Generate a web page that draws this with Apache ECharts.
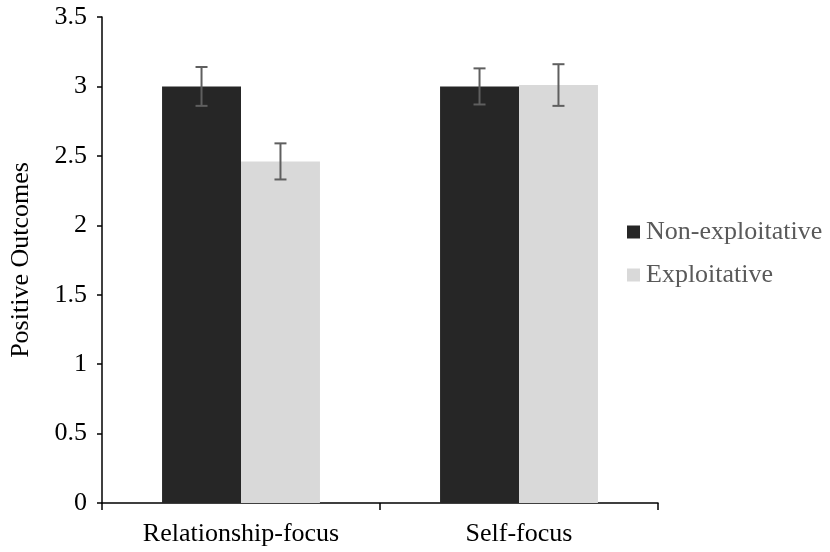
<!DOCTYPE html>
<html>
<head>
<meta charset="utf-8">
<script src="https://cdn.jsdelivr.net/npm/echarts@6/dist/echarts.min.js"></script>
<style>
  html, body { margin: 0; padding: 0; background: #fff; }
  #chart { width: 830px; height: 552px; }
</style>
</head>
<body>
<div id="chart"></div>
<script>
// Conditions on the x axis
const categories = ['Relationship-focus', 'Self-focus'];
// Group names (legend)
const seriesNames = ['Non-exploitative', 'Exploitative'];
// Mean positive outcomes per condition
const nonExploitative = [3.00, 3.00];
const exploitative = [2.46, 3.01];
// Standard errors (half-length of the error bars)
const nonExploitativeErr = [0.14, 0.13];
const exploitativeErr = [0.13, 0.15];
// Y axis ticks
const yMin = 0, yMax = 3.5, yStep = 0.5;

const FONT = '"Liberation Serif", "Times New Roman", serif';
const FONT_SIZE = 26;
const BAR_FRAC = 0.284;   // bar width as a fraction of the category band

function errorData(values, errs, side) {
  return values.map((v, i) => [i, v, errs[i], side]);
}

function renderError(params, api) {
  const idx = api.value(0);
  const mean = api.value(1);
  const err = api.value(2);
  const side = api.value(3);
  const band = api.size([1, 0])[0];
  const center = api.coord([idx, mean]);
  const x = center[0] + side * band * BAR_FRAC / 2;
  const top = api.coord([idx, mean + err])[1];
  const bot = api.coord([idx, mean - err])[1];
  const cap = 6;
  const style = { stroke: '#5f5f5f', lineWidth: 2 };
  return {
    type: 'group',
    children: [
      { type: 'line', shape: { x1: x, y1: top, x2: x, y2: bot }, style },
      { type: 'line', shape: { x1: x - cap, y1: top, x2: x + cap, y2: top }, style },
      { type: 'line', shape: { x1: x - cap, y1: bot, x2: x + cap, y2: bot }, style }
    ]
  };
}

const chart = echarts.init(document.getElementById('chart'), null, { renderer: 'canvas' });
chart.setOption({
  animation: false,
  backgroundColor: '#ffffff',
  grid: { left: 101, right: 172, top: 17, bottom: 49, containLabel: false },
  legend: {
    data: seriesNames,
    orient: 'vertical',
    left: 627,
    top: 219,
    padding: 0,
    icon: 'rect',
    itemWidth: 13,
    itemHeight: 13,
    itemGap: 17,
    textStyle: { fontFamily: FONT, fontSize: FONT_SIZE, color: '#595959', padding: [0, 0, 0, 1] }
  },
  xAxis: {
    type: 'category',
    data: categories,
    axisLine: { lineStyle: { color: '#000', width: 1.5 } },
    axisTick: { show: true, length: 7, lineStyle: { color: '#000', width: 1.5 } },
    axisLabel: { fontFamily: FONT, fontSize: FONT_SIZE, color: '#000', margin: 18 }
  },
  yAxis: {
    type: 'value',
    min: yMin, max: yMax, interval: yStep,
    name: 'Positive Outcomes',
    nameLocation: 'middle',
    nameGap: 68,
    nameTextStyle: { fontFamily: FONT, fontSize: FONT_SIZE, color: '#000' },
    splitLine: { show: false },
    axisLine: { show: true, lineStyle: { color: '#000', width: 1.5 } },
    axisTick: { show: true, length: 5, lineStyle: { color: '#000', width: 1.5 } },
    axisLabel: { fontFamily: FONT, fontSize: FONT_SIZE, color: '#000', margin: 15 }
  },
  series: [
    {
      name: seriesNames[0], type: 'bar', data: nonExploitative,
      barWidth: (BAR_FRAC * 100) + '%', barGap: '0%',
      itemStyle: { color: '#262626' }
    },
    {
      name: seriesNames[1], type: 'bar', data: exploitative,
      barWidth: (BAR_FRAC * 100) + '%', barGap: '0%',
      itemStyle: { color: '#d9d9d9' }
    },
    {
      type: 'custom', name: 'errNon', renderItem: renderError,
      data: errorData(nonExploitative, nonExploitativeErr, -1), z: 5
    },
    {
      type: 'custom', name: 'errExp', renderItem: renderError,
      data: errorData(exploitative, exploitativeErr, 1), z: 5
    }
  ]
});
</script>
</body>
</html>
